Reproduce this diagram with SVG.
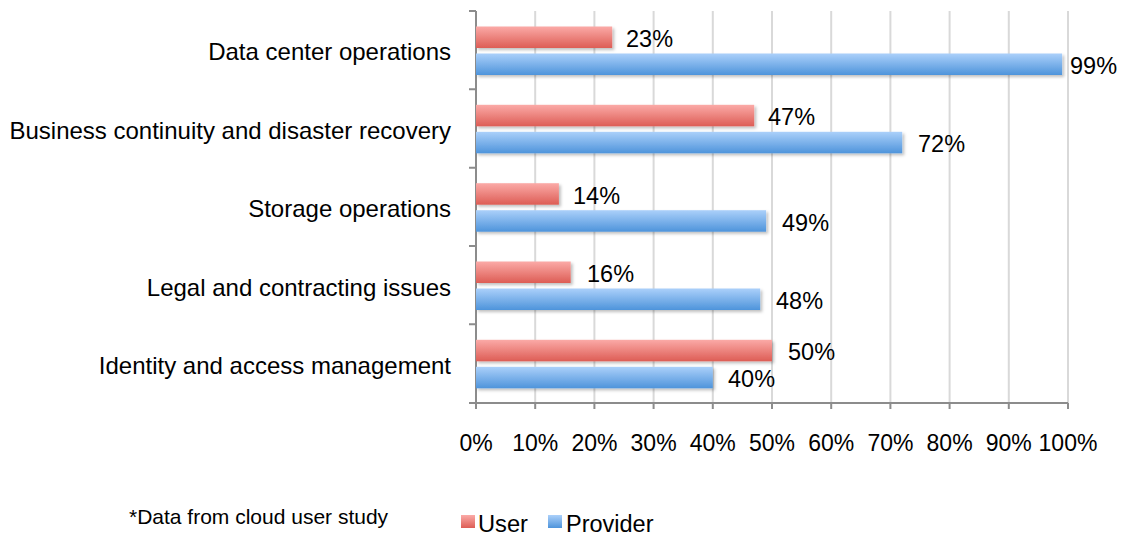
<svg xmlns="http://www.w3.org/2000/svg" width="1123" height="536" viewBox="0 0 1123 536">
<defs>
<linearGradient id="gUser" x1="0" y1="0" x2="0" y2="1"><stop offset="0" stop-color="#fbaaa7"/><stop offset="1" stop-color="#dd5d55"/></linearGradient>
<linearGradient id="gProv" x1="0" y1="0" x2="0" y2="1"><stop offset="0" stop-color="#abd0fa"/><stop offset="1" stop-color="#4e94db"/></linearGradient>
<filter id="sh" x="-5%" y="-30%" width="110%" height="170%"><feDropShadow dx="2" dy="2" stdDeviation="1.5" flood-color="#000" flood-opacity="0.25"/></filter>
<style>
text{font-family:"Liberation Sans",Arial,sans-serif;fill:#000}
.cat{font-size:24px;text-anchor:end}
.val{font-size:23.5px}
.ax{font-size:23px;text-anchor:middle}
.grid{stroke:#d9d9d9;stroke-width:2}
.axis{stroke:#8c8c8c;stroke-width:2;fill:none}
.u{fill:url(#gUser);filter:url(#sh)}
.p{fill:url(#gProv);filter:url(#sh)}
</style>
</defs>
<g id="grid">
<line class="grid" x1="535.2" y1="11" x2="535.2" y2="403"/>
<line class="grid" x1="594.4" y1="11" x2="594.4" y2="403"/>
<line class="grid" x1="653.6" y1="11" x2="653.6" y2="403"/>
<line class="grid" x1="712.8" y1="11" x2="712.8" y2="403"/>
<line class="grid" x1="772" y1="11" x2="772" y2="403"/>
<line class="grid" x1="831.2" y1="11" x2="831.2" y2="403"/>
<line class="grid" x1="890.4" y1="11" x2="890.4" y2="403"/>
<line class="grid" x1="949.6" y1="11" x2="949.6" y2="403"/>
<line class="grid" x1="1008.8" y1="11" x2="1008.8" y2="403"/>
<line class="grid" x1="1068" y1="11" x2="1068" y2="403"/>
</g>
<g id="axes">
<path class="axis" d="M476 11 V403 H1068"/>
<path class="axis" d="M469 11 H476 M469 89.3 H476 M469 167.7 H476 M469 246 H476 M469 324.3 H476 M469 403 H476"/>
<path class="axis" d="M476 403 V409 M535.2 403 V409 M594.4 403 V409 M653.6 403 V409 M712.8 403 V409 M772 403 V409 M831.2 403 V409 M890.4 403 V409 M949.6 403 V409 M1008.8 403 V409 M1068 403 V409"/>
</g>
<g id="axis-labels">
<text class="ax" x="476" y="451">0%</text>
<text class="ax" x="535.2" y="451">10%</text>
<text class="ax" x="594.4" y="451">20%</text>
<text class="ax" x="653.6" y="451">30%</text>
<text class="ax" x="712.8" y="451">40%</text>
<text class="ax" x="772" y="451">50%</text>
<text class="ax" x="831.2" y="451">60%</text>
<text class="ax" x="890.4" y="451">70%</text>
<text class="ax" x="949.6" y="451">80%</text>
<text class="ax" x="1008.8" y="451">90%</text>
<text class="ax" x="1068" y="451">100%</text>
</g>
<g id="cat-datacenter">
<text class="cat" x="451" y="60">Data center operations</text>
<rect class="u" x="476" y="26.5" width="136.2" height="21.5"/>
<rect class="p" x="476" y="53.5" width="586.1" height="21.5"/>
<text class="val" x="626" y="47">23%</text>
<text class="val" x="1070" y="74">99%</text>
</g>
<g id="cat-business">
<text class="cat" x="451" y="139">Business continuity and disaster recovery</text>
<rect class="u" x="476" y="104.8" width="278.2" height="21.5"/>
<rect class="p" x="476" y="131.8" width="426.2" height="21.5"/>
<text class="val" x="768" y="125">47%</text>
<text class="val" x="918" y="152">72%</text>
</g>
<g id="cat-storage">
<text class="cat" x="451" y="217">Storage operations</text>
<rect class="u" x="476" y="183.2" width="82.9" height="21.5"/>
<rect class="p" x="476" y="210.2" width="290.1" height="21.5"/>
<text class="val" x="573" y="203.5">14%</text>
<text class="val" x="782" y="230.5">49%</text>
</g>
<g id="cat-legal">
<text class="cat" x="451" y="295.5">Legal and contracting issues</text>
<rect class="u" x="476" y="261.5" width="94.7" height="21.5"/>
<rect class="p" x="476" y="288.5" width="284.2" height="21.5"/>
<text class="val" x="587" y="281.5">16%</text>
<text class="val" x="776" y="308.5">48%</text>
</g>
<g id="cat-identity">
<text class="cat" x="451" y="374">Identity and access management</text>
<rect class="u" x="476" y="339.8" width="296" height="21.5"/>
<rect class="p" x="476" y="366.8" width="236.8" height="21.5"/>
<text class="val" x="788" y="360">50%</text>
<text class="val" x="728" y="387">40%</text>
</g>
<g id="footnote">
<text x="129" y="524" font-size="21">*Data from cloud user study</text>
</g>
<g id="legend">
<rect x="461" y="515" width="14" height="13" fill="url(#gUser)"/>
<text x="478" y="532" font-size="23.7">User</text>
<rect x="548" y="515" width="14" height="13" fill="url(#gProv)"/>
<text x="566" y="532" font-size="23.5">Provider</text>
</g>
</svg>
